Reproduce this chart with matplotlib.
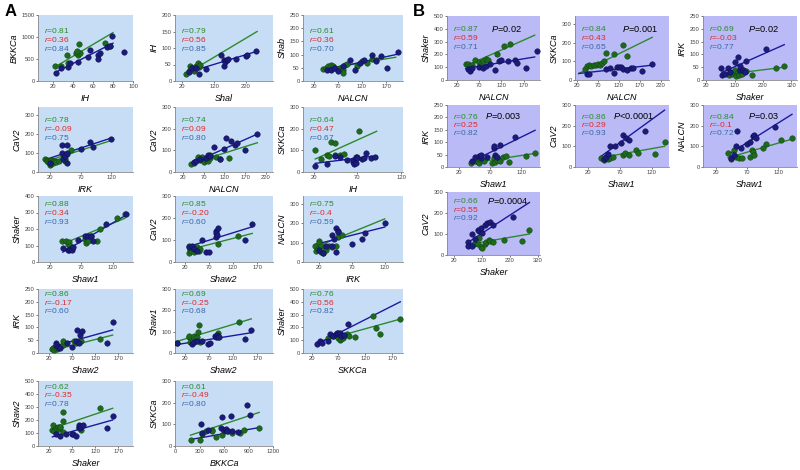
import numpy as np
import matplotlib.pyplot as plt

plt.rcParams['font.family'] = ['Liberation Sans', 'DejaVu Sans']
plt.rcParams['mathtext.fontset'] = 'custom'
plt.rcParams['mathtext.it'] = 'Liberation Sans:italic'
plt.rcParams['mathtext.rm'] = 'Liberation Sans'

# ---------------- panel A data ----------------
a_ylabels = ['BKKCa', 'IH', 'Shab', 'CaV2', 'CaV2', 'SKKCa', 'Shaker',
             'CaV2', 'NALCN', 'IRK', 'Shaw1', 'Shaker', 'Shaw2', 'SKKCa']
a_xlabels = ['IH', 'Shal', 'NALCN', 'IRK', 'NALCN', 'IH', 'Shaw1',
             'Shaw2', 'IRK', 'Shaw2', 'Shaw2', 'SKKCa', 'Shaker', 'BKKCa']
a_r = [('0.81', '0.36', '0.84'), ('0.79', '0.56', '0.85'), ('0.61', '0.36', '0.70'),
       ('0.78', '-0.09', '0.75'), ('0.74', '0.09', '0.80'), ('0.64', '0.47', '0.67'),
       ('0.88', '0.34', '0.93'), ('0.85', '-0.20', '0.60'), ('0.75', '-0.4', '0.59'),
       ('0.86', '-0.17', '0.60'), ('0.69', '-0.25', '0.68'), ('0.76', '0.56', '0.82'),
       ('0.62', '-0.35', '0.78'), ('0.61', '-0.49', '0.80')]
a_xlim = [(5, 100), (-3, 305), (-2, 205), (1, 155), (0, 238), (8, 122), (0, 153),
          (0, 203), (-5, 148), (-3, 202), (0, 203), (4, 190), (-3, 202), (0, 1200)]
a_xticks = [[20, 40, 60, 80, 100], [20, 120, 220], [20, 70, 120, 170], [20, 70, 120],
            [20, 70, 120, 170, 220], [20, 70, 120], [20, 70, 120], [20, 70, 120, 170],
            [20, 70, 120], [20, 70, 120, 170], [20, 70, 120, 170], [20, 70, 120, 170],
            [20, 70, 120, 170], [0, 300, 600, 900, 1200]]
a_ymax = [1500, 200, 250, 340, 300, 300, 400, 300, 340, 250, 300, 500, 500, 300]
a_ystep = [500, 50, 50, 100, 100, 100, 100, 100, 100, 50, 100, 100, 100, 100]

a1_gx = [22, 28, 34, 35, 43, 45, 47, 46, 44, 72, 77]
a1_gy = [330, 330, 580, 400, 640, 600, 630, 830, 680, 860, 800]
a1_bx = [23, 28, 35, 37, 45, 55, 57, 65, 65, 67, 74, 79, 77, 91]
a1_by = [180, 300, 320, 420, 440, 540, 710, 590, 500, 630, 780, 1020, 790, 660]
a1_gl = [(22, 80), (320, 1100)]
a1_bl = [(22, 80), (190, 860)]

a2_gx = [33, 40, 45, 48, 52, 55, 58, 60, 63, 68, 70, 72, 75]
a2_gy = [22, 30, 45, 38, 35, 40, 30, 35, 45, 50, 55, 42, 47]
a2_bx = [42, 50, 62, 72, 95, 140, 150, 152, 155, 160, 163, 190, 220, 222, 250]
a2_by = [28, 40, 38, 22, 35, 78, 45, 65, 58, 65, 68, 68, 75, 80, 92]
a2_gl = [(33, 255), (22, 150)]
a2_bl = [(33, 255), (25, 90)]

a3_gx = [40, 45, 50, 55, 60, 65, 75, 80, 80, 85, 90, 110, 120, 130, 140, 150]
a3_gy = [45, 50, 55, 60, 55, 50, 50, 40, 30, 60, 65, 55, 75, 70, 85, 78]
a3_bx = [48, 55, 62, 70, 80, 95, 105, 115, 125, 140, 150, 160, 172, 195]
a3_by = [40, 40, 50, 38, 55, 80, 40, 70, 80, 100, 75, 95, 50, 110]
a3_gl = [(40, 190), (45, 90)]
a3_bl = [(40, 195), (40, 102)]

a4_gx = [13, 15, 16, 18, 20, 20, 22, 22, 25, 26, 28, 30, 35, 42, 45, 45, 48, 55]
a4_gy = [70, 65, 60, 50, 55, 35, 40, 65, 45, 60, 55, 50, 55, 75, 70, 60, 95, 115]
a4_bx = [20, 40, 40, 42, 45, 48, 48, 48, 70, 85, 90, 120]
a4_by = [45, 140, 100, 70, 85, 140, 100, 45, 120, 155, 130, 175]
a4_gl = [(13, 120), (55, 165)]
a4_bl = [(13, 120), (65, 178)]

a5_gx = [40, 45, 55, 60, 65, 65, 70, 75, 75, 80, 85, 85, 100, 110, 130]
a5_gy = [35, 40, 70, 55, 60, 70, 45, 55, 65, 50, 65, 80, 70, 60, 65]
a5_bx = [45, 50, 60, 75, 80, 85, 95, 110, 120, 125, 135, 145, 150, 170, 200]
a5_by = [45, 50, 60, 65, 80, 75, 115, 60, 105, 155, 145, 125, 135, 100, 175]
a5_gl = [(40, 200), (40, 135)]
a5_bl = [(40, 200), (40, 175)]

a6_gx = [22, 28, 35, 38, 40, 45, 45, 50, 55, 72, 70]
a6_gy = [100, 60, 80, 75, 140, 135, 80, 80, 85, 190, 70]
a6_bx = [22, 35, 45, 50, 58, 65, 65, 66, 68, 68, 70, 75, 78, 80, 85, 90]
a6_by = [30, 35, 75, 70, 55, 55, 45, 35, 70, 40, 65, 60, 65, 90, 65, 70]
a6_gl = [(22, 92), (60, 188)]
a6_bl = [(22, 92), (40, 75)]

a7_gx = [38, 45, 48, 50, 52, 55, 75, 78, 80, 80, 85, 95, 100, 128, 140]
a7_gy = [125, 125, 110, 120, 100, 85, 140, 115, 145, 130, 160, 125, 200, 265, 290]
a7_bx = [40, 48, 50, 52, 55, 57, 65, 75, 80, 85, 88, 110, 142]
a7_by = [85, 75, 70, 80, 70, 90, 135, 160, 160, 155, 130, 230, 290]
a7_gl = [(40, 140), (110, 265)]
a7_bl = [(40, 140), (60, 280)]

a8_gx = [28, 30, 32, 33, 35, 38, 40, 42, 45, 48, 50, 52, 90, 130]
a8_gy = [75, 40, 55, 50, 70, 65, 45, 60, 70, 55, 50, 60, 80, 120]
a8_bx = [30, 35, 40, 45, 55, 65, 70, 85, 85, 85, 88, 90, 145, 160]
a8_by = [70, 75, 60, 50, 100, 45, 45, 140, 130, 115, 125, 155, 100, 175]
a8_gl = [(28, 160), (55, 130)]
a8_bl = [(28, 160), (70, 160)]

a9_gx = [13, 15, 18, 20, 20, 22, 22, 25, 28, 30, 35, 40, 45, 48, 55]
a9_gy = [85, 55, 65, 110, 100, 80, 50, 45, 75, 60, 80, 75, 80, 130, 140]
a9_bx = [20, 25, 30, 40, 40, 43, 45, 45, 48, 48, 70, 85, 90, 120]
a9_by = [60, 45, 80, 140, 80, 120, 50, 175, 160, 155, 95, 120, 150, 200]
a9_gl = [(13, 120), (75, 222)]
a9_bl = [(13, 120), (90, 180)]

a10_gx = [28, 30, 32, 35, 38, 40, 45, 50, 52, 75, 80, 85, 90, 130]
a10_gy = [15, 20, 10, 25, 15, 20, 22, 30, 45, 45, 40, 45, 45, 55]
a10_bx = [35, 35, 40, 45, 60, 70, 78, 82, 85, 88, 92, 145, 158]
a10_by = [40, 30, 25, 20, 40, 25, 45, 90, 40, 70, 85, 40, 120]
a10_gl = [(28, 158), (10, 70)]
a10_bl = [(28, 158), (25, 90)]

a11_gx = [5, 28, 30, 32, 35, 38, 40, 45, 48, 50, 52, 85, 90, 132]
a11_gy = [45, 75, 80, 50, 45, 55, 80, 75, 100, 130, 50, 80, 95, 145]
a11_bx = [5, 35, 40, 45, 55, 68, 72, 82, 85, 88, 90, 92, 145, 158]
a11_by = [45, 40, 50, 55, 55, 40, 45, 80, 75, 85, 75, 75, 65, 110]
a11_gl = [(5, 158), (55, 160)]
a11_bl = [(5, 158), (40, 95)]

a12_gx = [50, 60, 65, 70, 72, 75, 78, 80, 85, 90, 100, 135, 140, 148, 185]
a12_gy = [120, 130, 140, 120, 100, 110, 120, 135, 150, 130, 125, 290, 195, 150, 265]
a12_bx = [30, 35, 40, 50, 55, 60, 65, 68, 70, 72, 75, 80, 88]
a12_by = [70, 90, 80, 95, 150, 130, 145, 160, 155, 160, 130, 140, 230]
a12_gl = [(30, 185), (85, 265)]
a12_bl = [(30, 185), (70, 400)]

a13_gx = [28, 30, 32, 35, 38, 40, 42, 45, 45, 50, 52, 52, 85, 90, 130]
a13_gy = [120, 160, 115, 140, 130, 150, 130, 150, 145, 195, 265, 110, 140, 120, 290]
a13_bx = [35, 45, 58, 70, 72, 78, 85, 85, 88, 90, 95, 145, 158]
a13_by = [90, 75, 95, 95, 90, 75, 150, 160, 140, 155, 160, 135, 230]
a13_gl = [(28, 158), (135, 290)]
a13_bl = [(28, 158), (70, 200)]

a14_gx = [190, 310, 330, 380, 450, 450, 500, 580, 600, 650, 700, 800, 850, 1030]
a14_gy = [28, 30, 55, 70, 75, 70, 40, 50, 70, 70, 60, 60, 75, 85]
a14_bx = [320, 330, 400, 560, 580, 600, 620, 640, 680, 700, 770, 880, 920]
a14_by = [100, 60, 75, 85, 135, 75, 80, 70, 140, 70, 65, 190, 145]
a14_gl = [(190, 1030), (50, 155)]
a14_bl = [(190, 1030), (30, 85)]

# ---------------- panel B data ----------------
b_ylabels = ['Shaker', 'SKKCa', 'IRK', 'IRK', 'CaV2', 'NALCN', 'CaV2']
b_xlabels = ['NALCN', 'NALCN', 'Shaker', 'Shaw1', 'Shaw1', 'Shaw1', 'Shaker']
b_r = [('0.87', '0.59', '0.71'), ('0.84', '0.43', '0.65'), ('0.69', '-0.03', '0.77'),
       ('0.76', '0.25', '0.82'), ('0.86', '0.29', '0.93'), ('0.84', '-0.1', '0.72'),
       ('0.66', '0.55', '0.92')]
b_p = ['=0.02', '=0.001', '=0.02', '=0.003', '<0.0001', '=0.03', '=0.0004']
b_xlim = [(-2, 207), (16, 240), (8, 340), (0, 150), (0, 147), (0, 150), (-5, 328)]
b_xticks = [[20, 70, 120, 170], [20, 70, 120, 170, 220], [20, 120, 220, 320],
            [20, 70, 120], [20, 70, 120], [20, 70, 120], [20, 120, 220, 320]]
b_ymax = [500, 345, 250, 250, 300, 300, 300]
b_ystep = [100, 100, 50, 50, 100, 100, 100]

b1_gx = [40, 45, 50, 55, 60, 70, 75, 80, 85, 90, 110, 125, 140]
b1_gy = [125, 125, 110, 120, 155, 140, 125, 150, 165, 155, 200, 265, 285]
b1_bx = [45, 50, 55, 70, 80, 85, 95, 105, 115, 120, 135, 150, 155, 175, 200]
b1_by = [85, 70, 90, 100, 90, 110, 125, 75, 150, 160, 145, 155, 135, 90, 230]
b1_gl = [(40, 195), (110, 350)]
b1_bl = [(40, 195), (90, 180)]

b2_gx = [40, 45, 50, 55, 62, 65, 70, 75, 80, 85, 90, 110, 130, 140]
b2_gy = [60, 75, 80, 75, 80, 80, 85, 80, 90, 100, 145, 140, 190, 130]
b2_bx = [45, 50, 90, 100, 110, 115, 120, 125, 130, 140, 150, 155, 175, 200]
b2_by = [30, 30, 60, 65, 40, 70, 70, 70, 60, 55, 65, 65, 50, 85]
b2_gl = [(25, 200), (35, 230)]
b2_bl = [(25, 200), (35, 80)]

b3_gx = [100, 110, 115, 120, 125, 130, 135, 140, 145, 150, 160, 180, 265, 295]
b3_gy = [20, 25, 30, 40, 15, 30, 20, 35, 25, 40, 35, 20, 45, 55]
b3_bx = [70, 75, 85, 95, 105, 120, 130, 140, 140, 150, 155, 160, 230]
b3_by = [45, 20, 25, 45, 30, 70, 90, 40, 55, 40, 30, 75, 120]
b3_gl = [(75, 295), (20, 50)]
b3_bl = [(75, 295), (30, 138)]

b4_gx = [38, 45, 50, 52, 55, 60, 72, 75, 78, 80, 85, 90, 95, 100, 128, 142]
b4_gy = [15, 25, 20, 15, 30, 25, 15, 35, 20, 30, 25, 40, 45, 20, 45, 55]
b4_bx = [40, 45, 52, 55, 55, 65, 75, 75, 78, 80, 85, 110]
b4_by = [25, 40, 45, 35, 50, 40, 75, 85, 50, 40, 90, 120]
b4_gl = [(38, 142), (15, 55)]
b4_bl = [(38, 142), (20, 148)]

b5_gx = [40, 45, 48, 52, 55, 60, 75, 78, 85, 95, 98, 125, 140]
b5_gy = [45, 35, 50, 40, 45, 50, 60, 70, 60, 80, 70, 65, 120]
b5_bx = [45, 48, 52, 55, 62, 72, 75, 80, 85, 110]
b5_by = [40, 50, 65, 100, 100, 115, 155, 140, 130, 175]
b5_gl = [(40, 140), (45, 100)]
b5_bl = [(40, 140), (50, 275)]

b6_gx = [40, 45, 50, 52, 58, 62, 75, 78, 80, 82, 95, 100, 125, 142]
b6_gy = [70, 40, 80, 50, 45, 45, 50, 80, 75, 60, 90, 110, 130, 140]
b6_bx = [45, 50, 52, 55, 60, 70, 75, 80, 82, 85, 115]
b6_by = [45, 60, 100, 175, 90, 110, 120, 150, 155, 140, 195]
b6_gl = [(40, 142), (45, 135)]
b6_bl = [(40, 142), (60, 255)]

b7_gx = [90, 105, 110, 115, 120, 130, 135, 145, 150, 160, 200, 265, 290]
b7_gy = [50, 50, 80, 40, 35, 50, 60, 70, 65, 60, 70, 65, 120]
b7_bx = [70, 70, 85, 85, 95, 105, 110, 115, 120, 130, 140, 150, 160, 230]
b7_by = [60, 45, 100, 45, 75, 120, 115, 130, 105, 145, 150, 155, 145, 180]
b7_gl = [(70, 290), (50, 100)]
b7_bl = [(70, 290), (60, 250)]

a_pts = [(a1_gx, a1_gy, a1_bx, a1_by, a1_gl, a1_bl), (a2_gx, a2_gy, a2_bx, a2_by, a2_gl, a2_bl),
         (a3_gx, a3_gy, a3_bx, a3_by, a3_gl, a3_bl), (a4_gx, a4_gy, a4_bx, a4_by, a4_gl, a4_bl),
         (a5_gx, a5_gy, a5_bx, a5_by, a5_gl, a5_bl), (a6_gx, a6_gy, a6_bx, a6_by, a6_gl, a6_bl),
         (a7_gx, a7_gy, a7_bx, a7_by, a7_gl, a7_bl), (a8_gx, a8_gy, a8_bx, a8_by, a8_gl, a8_bl),
         (a9_gx, a9_gy, a9_bx, a9_by, a9_gl, a9_bl), (a10_gx, a10_gy, a10_bx, a10_by, a10_gl, a10_bl),
         (a11_gx, a11_gy, a11_bx, a11_by, a11_gl, a11_bl), (a12_gx, a12_gy, a12_bx, a12_by, a12_gl, a12_bl),
         (a13_gx, a13_gy, a13_bx, a13_by, a13_gl, a13_bl), (a14_gx, a14_gy, a14_bx, a14_by, a14_gl, a14_bl)]
b_pts = [(b1_gx, b1_gy, b1_bx, b1_by, b1_gl, b1_bl), (b2_gx, b2_gy, b2_bx, b2_by, b2_gl, b2_bl),
         (b3_gx, b3_gy, b3_bx, b3_by, b3_gl, b3_bl), (b4_gx, b4_gy, b4_bx, b4_by, b4_gl, b4_bl),
         (b5_gx, b5_gy, b5_bx, b5_by, b5_gl, b5_bl), (b6_gx, b6_gy, b6_bx, b6_by, b6_gl, b6_bl),
         (b7_gx, b7_gy, b7_bx, b7_by, b7_gl, b7_bl)]

# layout in pixels (left, right) / (top, bottom)
W, H = 800, 470
a_cols = [(38, 133), (175, 273), (303, 403)]
a_rows = [(15, 81), (107, 172), (196, 262), (289, 353), (381, 446)]
a_txt_y = [0.76, 0.80, 0.88, 0.93, 0.92]
b_cols = [(447, 540), (575, 669), (703, 797)]
b_rows = [(16, 80), (105, 167), (192, 255)]
b_txt_y = [0.80, 0.82, 0.86]
b_p_x = [0.47, 0.5, 0.48, 0.41, 0.4, 0.48, 0.43]

A_BG = '#c7ddf6'
B_BG = '#babaf6'
G_DOT, B_DOT = '#1d6a1d', '#1b1b7c'
G_LINE, B_LINE = '#2c8a2c', '#1a1aa0'
R_COLS = ['#2a8a2a', '#e02828', '#3b66a8']

fig = plt.figure(figsize=(W / 100, H / 100), dpi=100)


def make_ax(cols, rows, bg):
    (l, r), (t, b) = cols, rows
    ax = fig.add_axes([l / W, 1 - b / H, (r - l) / W, (b - t) / H])
    ax.set_facecolor(bg)
    for s in ['top', 'right']:
        ax.spines[s].set_visible(False)
    for s in ['left', 'bottom']:
        ax.spines[s].set_color('#888888')
        ax.spines[s].set_linewidth(0.6)
    ax.tick_params(labelsize=4.2, length=1.5, width=0.5, colors='#444444', pad=1)
    return ax


def draw(ax, pts, xl, yl, xlim, xticks, ymax, ystep, rvals, ty):
    gx, gy, bx, by, gl, bl = pts
    ax.plot(gl[0], gl[1], color=G_LINE, lw=1.0, zorder=2)
    ax.plot(bl[0], bl[1], color=B_LINE, lw=1.0, zorder=2)
    ax.scatter(gx, gy, s=16, color=G_DOT, edgecolors='#0d3d0d', linewidths=0.3, zorder=3)
    ax.scatter(bx, by, s=16, color=B_DOT, edgecolors='#0a0a45', linewidths=0.3, zorder=3)
    ax.set_xlim(*xlim)
    ax.set_xticks(xticks)
    ax.set_ylim(0, ymax)
    ax.set_yticks(np.arange(0, ymax + 1, ystep))
    ax.set_xlabel(xl, fontsize=6.5, style='italic', labelpad=3)
    ax.set_ylabel(yl, fontsize=6.5, style='italic', labelpad=2)
    for k, (v, c) in enumerate(zip(rvals, R_COLS)):
        ax.text(0.06, ty - 0.135 * k, '$r$=' + v, transform=ax.transAxes,
                fontsize=6.0, color=c, va='center', ha='left', zorder=4)


for i in range(14):
    ax = make_ax(a_cols[i % 3], a_rows[i // 3], A_BG)
    draw(ax, a_pts[i], a_xlabels[i], a_ylabels[i], a_xlim[i], a_xticks[i],
         a_ymax[i], a_ystep[i], a_r[i], a_txt_y[i // 3])

for i in range(7):
    ax = make_ax(b_cols[i % 3], b_rows[i // 3], B_BG)
    ty = b_txt_y[i // 3]
    draw(ax, b_pts[i], b_xlabels[i], b_ylabels[i], b_xlim[i], b_xticks[i],
         b_ymax[i], b_ystep[i], b_r[i], ty)
    ax.text(b_p_x[i], ty, '$P$' + b_p[i], transform=ax.transAxes,
            fontsize=6.6, color='black', va='center', ha='left', zorder=4)

fig.text(5 / W, 1 - 12 / H, 'A', fontsize=12, fontweight='bold', va='center')
fig.text(413 / W, 1 - 12 / H, 'B', fontsize=12, fontweight='bold', va='center')

fig.savefig('out.png', dpi=100)
